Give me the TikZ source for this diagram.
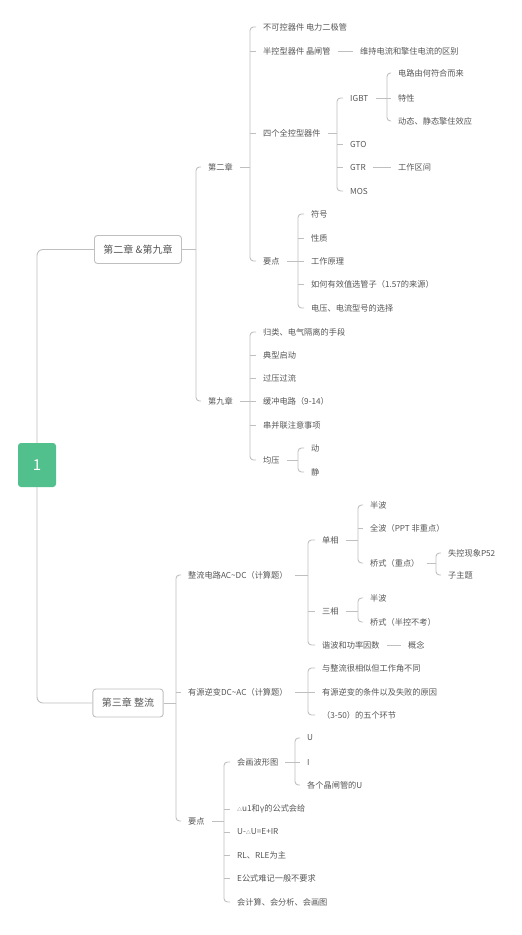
\documentclass[tikz,border=0pt]{standalone}
\usepackage{fontspec}
\setmainfont{Noto Sans CJK SC}
\definecolor{txt}{HTML}{555555}
\definecolor{ln}{HTML}{BFBFBF}
\definecolor{grn}{HTML}{52C08C}
\newcommand\brk[4]{%
  \draw[conn] (#1.east) -- (#1.east -| #2);
  \draw[conn,rounded corners=3.5pt] (#3.west) -- (#3.west -| #2) -- (#4.west -| #2) -- (#4.west);}
\newcommand\tck[2]{\draw[conn] (#2.west -| #1) -- (#2.west);}
\newcommand\tri{{\fontsize{5}{6}\selectfont △}}
\begin{document}
\begin{tikzpicture}[x=1pt,y=-1pt,
  conn/.style={draw=ln,line width=0.9pt},
  t/.style={anchor=west,inner xsep=7pt,inner ysep=2pt,xshift=-7pt,text=txt,font=\fontsize{8.2}{10}\selectfont},
  mainbox/.style={draw=ln,line width=0.9pt,fill=white,rounded corners=3pt,text=txt,font=\fontsize{10}{12}\selectfont,inner xsep=9pt,minimum height=28pt},
  rootbox/.style={fill=grn,rounded corners=3pt,text=white,font=\fontsize{15}{18}\selectfont,minimum width=38pt,minimum height=44pt}]
\useasboundingbox (0,0) rectangle (522,935);
% spines
\coordinate (s0) at (196,0);
\coordinate (s1) at (250,0);
\coordinate (s2) at (337,0);
\coordinate (s3) at (387,0);
\coordinate (s4) at (298,0);
\coordinate (s5) at (250,0);
\coordinate (s6) at (298,0);
\coordinate (s7) at (176,0);
\coordinate (s8) at (308,0);
\coordinate (s9) at (358,0);
\coordinate (s10) at (436,0);
\coordinate (s11) at (308,0);
\coordinate (s12) at (224,0);
\coordinate (s13) at (295,0);
% root and main boxes
\node[rootbox] (root) at (37,465) {1};
\node[mainbox] (b1) at (138,249.5) {第二章 \&第九章};
\node[mainbox] (b2) at (128,703) {第三章 整流};
\draw[conn,rounded corners=6pt] (root.north) -- (root.north |- b1.west) -- (b1.west);
\draw[conn,rounded corners=6pt] (root.south) -- (root.south |- b2.west) -- (b2.west);
% chapter 2 & 9
\node[t] (c2) at (208,167) {第二章};
\node[t] (c9) at (208,401) {第九章};
\brk{b1}{s0}{c2}{c9}
\node[t] (a1) at (263,27) {不可控器件 电力二极管};
\node[t] (a2) at (263,51) {半控型器件 晶闸管};
\node[t] (a3) at (263,133) {四个全控型器件};
\node[t] (a4) at (263,261) {要点};
\brk{c2}{s1}{a1}{a4}
\tck{s1}{a2}\tck{s1}{a3}
\node[t] (a2c) at (360,51) {维持电流和擎住电流的区别};
\draw[conn] (a2.east) -- (a2c.west);
\node[t] (g1) at (350,98) {IGBT};
\node[t] (g2) at (350,144) {GTO};
\node[t] (g3) at (350,167) {GTR};
\node[t] (g4) at (350,191) {MOS};
\brk{a3}{s2}{g1}{g4}
\tck{s2}{g2}\tck{s2}{g3}
\node[t] (i1) at (398,73) {电路由何符合而来};
\node[t] (i2) at (398,98) {特性};
\node[t] (i3) at (398,121) {动态、静态擎住效应};
\brk{g1}{s3}{i1}{i3}
\tck{s3}{i2}
\node[t] (g3c) at (398,167) {工作区间};
\draw[conn] (g3.east) -- (g3c.west);
\node[t] (y1) at (311,214) {符号};
\node[t] (y2) at (311,238) {性质};
\node[t] (y3) at (311,261) {工作原理};
\node[t] (y4) at (311,284) {如何有效值选管子（1.57的来源）};
\node[t] (y5) at (311,308) {电压、电流型号的选择};
\brk{a4}{s4}{y1}{y5}
\tck{s4}{y2}\tck{s4}{y3}\tck{s4}{y4}
\node[t] (n1) at (263,332) {归类、电气隔离的手段};
\node[t] (n2) at (263,355) {典型启动};
\node[t] (n3) at (263,378) {过压过流};
\node[t] (n4) at (263,401) {缓冲电路（9-14）};
\node[t] (n5) at (263,425) {串并联注意事项};
\node[t] (n6) at (263,460) {均压};
\brk{c9}{s5}{n1}{n6}
\tck{s5}{n2}\tck{s5}{n3}\tck{s5}{n4}\tck{s5}{n5}
\node[t] (m1) at (311,448) {动};
\node[t] (m2) at (311,472) {静};
\brk{n6}{s6}{m1}{m2}
% chapter 3
\node[t] (d1) at (188,575) {整流电路AC\textasciitilde DC（计算题）};
\node[t] (d2) at (188,692) {有源逆变DC\textasciitilde AC（计算题）};
\node[t] (d3) at (188,821) {要点};
\brk{b2}{s7}{d1}{d3}
\tck{s7}{d2}
\node[t] (e1) at (322,540) {单相};
\node[t] (e2) at (322,611) {三相};
\node[t] (e3) at (322,645) {谐波和功率因数};
\brk{d1}{s8}{e1}{e3}
\tck{s8}{e2}
\node[t] (f1) at (370,505) {半波};
\node[t] (f2) at (370,528) {全波（PPT 非重点）};
\node[t] (f3) at (370,563) {桥式（重点）};
\brk{e1}{s9}{f1}{f3}
\tck{s9}{f2}
\node[t] (j1) at (448,553) {失控现象P52};
\node[t] (j2) at (448,575) {子主题};
\brk{f3}{s10}{j1}{j2}
\node[t] (h1) at (370,598) {半波};
\node[t] (h2) at (370,622) {桥式（半控不考）};
\brk{e2}{s9}{h1}{h2}
\node[t] (e3c) at (408,645) {概念};
\draw[conn] (e3.east) -- (e3c.west);
\node[t] (p1) at (322,668) {与整流很相似但工作角不同};
\node[t] (p2) at (322,692) {有源逆变的条件以及失败的原因};
\node[t] (p3) at (322,715) {（3-50）的五个环节};
\brk{d2}{s11}{p1}{p3}
\tck{s11}{p2}
\node[t] (k1) at (237,762) {会画波形图};
\node[t] (k2) at (237,809) {\tri u1和γ的公式会给};
\node[t] (k3) at (237,832) {U-\tri U=E+IR};
\node[t] (k4) at (237,855) {RL、RLE为主};
\node[t] (k5) at (237,878) {E公式难记一般不要求};
\node[t] (k6) at (237,902) {会计算、会分析、会画图};
\brk{d3}{s12}{k1}{k6}
\tck{s12}{k2}\tck{s12}{k3}\tck{s12}{k4}\tck{s12}{k5}
\node[t] (q1) at (307,738) {U};
\node[t] (q2) at (307,762) {I};
\node[t] (q3) at (307,785) {各个晶闸管的U};
\brk{k1}{s13}{q1}{q3}
\tck{s13}{q2}
\end{tikzpicture}
\end{document}
